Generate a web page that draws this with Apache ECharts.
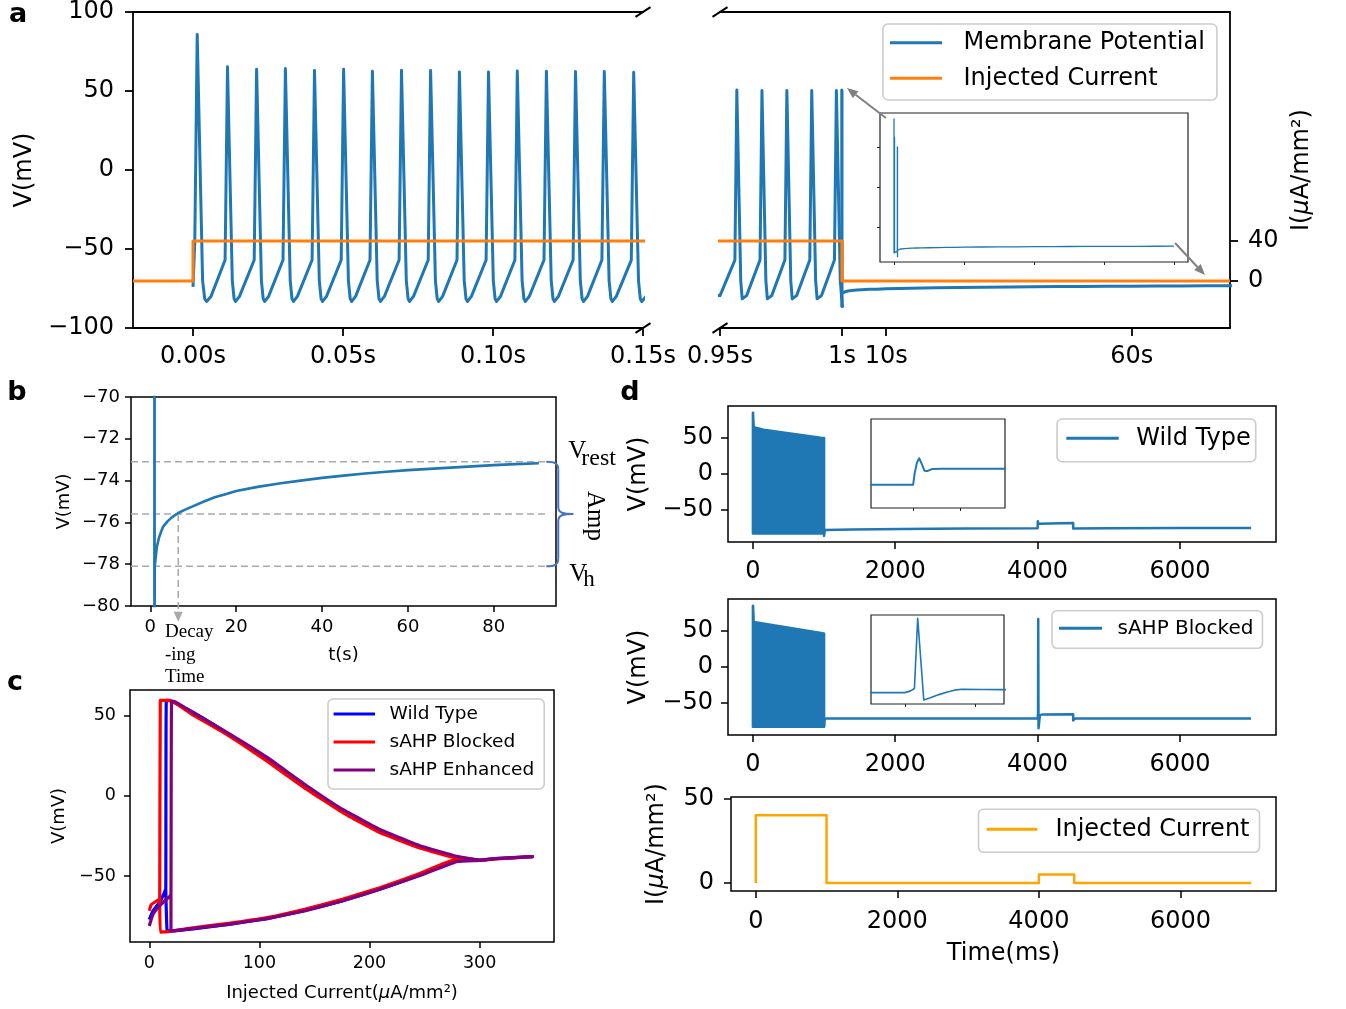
<!DOCTYPE html>
<html><head><meta charset="utf-8">
<script src="https://cdn.jsdelivr.net/npm/echarts@6/dist/echarts.min.js"></script>
<style>html,body{margin:0;padding:0;background:#fff}#c{width:1346px;height:1009px}</style>
</head><body><div id="c"></div>
<script>
// ================= DATA =================
// Panel a: membrane potential [t (s), V (mV)], 0 - 0.15 s
const vmEarly = [
 [0,-74],[0.0006,-45],[0.0014,85.7],[0.0032,-70],[0.0039,-81.5],[0.0045,-83.2],[0.006,-80],
 [0.0107,-57],[0.0115,65.3],[0.0131,-70],[0.0137,-81.5],[0.0142,-83.2],[0.0155,-80],
 [0.0204,-57],[0.0212,63.8],[0.0228,-70],[0.0234,-81.5],[0.0239,-83.2],[0.0252,-80],
 [0.0300,-57],[0.0308,64.2],[0.0324,-70],[0.0330,-81.5],[0.0335,-83.2],[0.0348,-80],
 [0.0397,-57],[0.0405,62.9],[0.0421,-70],[0.0427,-81.5],[0.0432,-83.2],[0.0445,-80],
 [0.0494,-57],[0.0502,63.8],[0.0518,-70],[0.0524,-81.5],[0.0529,-83.2],[0.0542,-80],
 [0.0590,-57],[0.0598,62.5],[0.0614,-70],[0.0620,-81.5],[0.0625,-83.2],[0.0638,-80],
 [0.0687,-57],[0.0695,63.2],[0.0711,-70],[0.0717,-81.5],[0.0722,-83.2],[0.0735,-80],
 [0.0784,-57],[0.0792,62.9],[0.0808,-70],[0.0814,-81.5],[0.0819,-83.2],[0.0832,-80],
 [0.0880,-57],[0.0888,62.1],[0.0904,-70],[0.0910,-81.5],[0.0915,-83.2],[0.0928,-80],
 [0.0977,-57],[0.0985,62.1],[0.1001,-70],[0.1007,-81.5],[0.1012,-83.2],[0.1025,-80],
 [0.1073,-57],[0.1081,62.7],[0.1097,-70],[0.1103,-81.5],[0.1108,-83.2],[0.1121,-80],
 [0.1170,-57],[0.1178,62.5],[0.1194,-70],[0.1200,-81.5],[0.1205,-83.2],[0.1218,-80],
 [0.1267,-57],[0.1275,62.3],[0.1291,-70],[0.1297,-81.5],[0.1302,-83.2],[0.1315,-80],
 [0.1363,-57],[0.1371,62.3],[0.1387,-70],[0.1393,-81.5],[0.1398,-83.2],[0.1411,-80],
 [0.1461,-57],[0.1469,61.9],[0.1485,-70],[0.1491,-81.5],[0.1496,-83.2],[0.1510,-80]
];
// 0.95 - 1.0 s
const vmLate = [
 [0.95,-79.5],[0.9561,-57],[0.9569,50.6],[0.9585,-70],[0.9591,-81.5],[0.9596,-82.5],[0.9609,-79.5],
 [0.9664,-57],[0.9672,50.3],[0.9688,-70],[0.9694,-81.5],[0.9699,-82.5],[0.9712,-79.5],
 [0.9766,-57],[0.9774,50.3],[0.9790,-70],[0.9796,-81.5],[0.9801,-82.5],[0.9814,-79.5],
 [0.9868,-57],[0.9876,50.3],[0.9892,-70],[0.9898,-81.5],[0.9903,-82.5],[0.9916,-79.5],
 [0.9969,-57],[0.9977,50.3],[0.9993,-70],[0.9999,-81.5],[1.0,-83]
];
// recovery after current off (s)
const vmRecovery = [
 [1.0,-86.3],[1.02,-78.1],[1.2,-77.8],[1.5,-77.2],[2.0,-76.75],[2.5,-76.45],[3.0,-76.2],[4.0,-75.95],
 [5.0,-75.76],[6.5,-75.55],[8.0,-75.4],[10,-75.22],[12.5,-75.0],[15,-74.8],[17.5,-74.65],[20,-74.5],
 [25,-74.3],[30,-74.14],[35,-74.0],[40,-73.87],[45,-73.76],[50,-73.66],[55,-73.58],[60,-73.5],
 [65,-73.44],[70,-73.38],[75,-73.32],[80,-73.26],[85,-73.21],[90.5,-73.17]
];
// injected current [t (s), I (uA/mm2)]
const iStepA = [[-0.02,0],[0,0],[0,40],[1.0,40],[1.0,0],[80,0]];
const aTicksLeft = [0, 0.05, 0.10, 0.15];
const aTicksR1 = [0.95];
const aTicksR2 = [1, 10, 60];
const aTicksV = [-100, -50, 0, 50, 100];
const aTicksI = [0, 40];
const aInsetTicksX = [0, 20, 40, 60, 80];
const aInsetTicksY = [-50, 0, 50];

// Panel b levels
const bVrest = -73.1, bHalf = -75.6, bVh = -78.1, bDecayT = 6.5;
const bTicksX = [0, 20, 40, 60, 80];
const bTicksY = [-80, -78, -76, -74, -72, -70];

// Panel c: V (mV) vs injected current (uA/mm2)
const cWildType = [[0,-77],[3.4,-71.6],[10.3,-65.3],[13.8,-60],[15,-58],[15.5,59.5],[20,59],[40,52],[72,38.6],[107,22.6],[141,6.2],[176,-9.5],[210,-22],[245,-31.4],[279,-38.2],[300,-40],[314,-39.1],[348,-37.8],[314,-39.1],[300,-40.1],[279,-40.3],[245,-49.4],[210,-58],[176,-65.2],[141,-71.4],[107,-76.4],[72,-80],[40,-82.8],[20,-84],[16.2,-83.8],[15,-58]];
const cBlocked = [[0,-71.5],[1.7,-67.8],[6.9,-65.3],[9.5,-64.3],[10,59.5],[19,59.5],[38,51.2],[72,37.6],[107,21.6],[141,5],[176,-10.5],[210,-23],[245,-32.3],[279,-38.8],[300,-40.2],[314,-39.3],[348,-37.8],[314,-39.3],[300,-40.1],[279,-39.4],[245,-48.5],[210,-57],[176,-64.3],[141,-70.6],[107,-75.8],[72,-79.4],[38,-82.3],[17,-84.5],[10,-84.8],[9.5,-64.3]];
const cEnhanced = [[0,-81],[3.4,-73.7],[10.3,-67.8],[19,-62.2],[19.7,-61.5],[20.2,59],[22.4,59],[38,52.6],[72,39],[107,24],[141,7.3],[176,-8.6],[210,-21.1],[245,-30.9],[279,-37.6],[300,-39.9],[314,-39],[348,-37.8],[314,-39],[300,-40.2],[279,-40.9],[245,-49.7],[210,-58],[176,-65.3],[141,-71.6],[107,-76.4],[72,-80],[38,-82.7],[22.4,-84.1],[19.7,-84.1],[19.7,-61.5]];
const cTicksX = [0, 100, 200, 300];
const cTicksY = [-50, 0, 50];

// Panel d: [t (ms), V (mV)]
const dWTBand = [[0,-83.2],[0,85.7],[2,85.7],[11,65.3],[150,62],[950,50.5],[1000,50.3],[1000,-83.2]];
const dWTTrace = [[1000,-83.2],[1000,-86.5],[1010,-78.2],[1400,-77.5],[2100,-76.7],[3000,-76.2],[4000,-75.85],[4001.5,-71],[4004,-66],[4006.5,-64.1],[4009,-66.5],[4012,-69.6],[4015,-69.8],[4020,-68.9],[4030,-68.8],[4500,-68.6],[4500,-76],[4520,-75.9],[5000,-75.8],[6000,-75.6],[7000,-75.5]];
const dSBBand = [[0,-83.5],[0,85.5],[2,85.5],[11,63],[1000,46.8],[1000,-83.5]];
const dSBTrace = [[1000,-83.5],[1000,-85],[1008,-71.8],[4000,-71.8],[4004,-68.5],[4006.7,-64],[4009,67],[4013.3,-85.6],[4018,-81.5],[4024,-75.5],[4030,-70.5],[4035,-67.2],[4040,-65.6],[4055,-65.9],[4070,-66.2],[4500,-66],[4500,-74.7],[4510,-73],[4530,-71.8],[7000,-71.8]];
const dCurrent = [[0,0],[0,40],[1000,40],[1000,0],[4000,0],[4000,5],[4500,5],[4500,0],[7000,0]];
const dTicksX = [0, 2000, 4000, 6000];
const dTicksY = [-50, 0, 50];
const dTicksI = [0, 50];
const dInsetTicksX = [4000, 4050];

// ================= CHART =================
const FONT = 'DejaVu Sans';
const SERIF = 'Liberation Serif';
const BLUE = '#1f77b4', ORANGE = '#ff7f0e';
const minus = v => String(v).replace('-', '\u2212');
const vmFull = vmEarly.concat(vmLate, vmRecovery);
const vmInset = vmFull.filter(p => p[0] <= 80);
const vmPanelB = vmLate.concat(vmRecovery);

const G = [
  {left:133, top:12, width:510, height:316},
  {left:720, top:12, width:122, height:316},
  {left:842, top:12, width:388, height:316},
  {left:880, top:113, width:308, height:149, show:true, borderColor:'#222', borderWidth:1.2, backgroundColor:'#fff'},
  {left:131, top:397, width:425, height:209, show:true, borderColor:'#000', borderWidth:1.5},
  {left:130, top:690, width:424, height:252, show:true, borderColor:'#000', borderWidth:1.5},
  {left:728, top:406, width:548, height:136, show:true, borderColor:'#000', borderWidth:1.5},
  {left:871, top:419, width:134, height:89, show:true, borderColor:'#222', borderWidth:1.2, backgroundColor:'#fff'},
  {left:728, top:599, width:548, height:136, show:true, borderColor:'#000', borderWidth:1.5},
  {left:871, top:615, width:133, height:89, show:true, borderColor:'#222', borderWidth:1.2, backgroundColor:'#fff'},
  {left:731, top:797, width:545, height:94, show:true, borderColor:'#000', borderWidth:1.5}
].map(g => Object.assign({outerBoundsMode:'none', containLabel:false, show:false}, g));

function ax(o) {
  const a = {
    type:'value', gridIndex:o.g, min:o.min, max:o.max, show:o.show !== false,
    axisLine:{show:!!o.line, onZero:false, lineStyle:{color:'#000', width:o.lw || 1.5}},
    axisTick:{show:!!o.ticks, length:o.tl || 6, inside:false, lineStyle:{color:o.tc || '#000', width:o.lw || 1.5}},
    axisLabel:{show:!!o.labels, margin:o.margin || 8, fontFamily:FONT, fontSize:o.fs || 18, color:'#000',
      formatter:o.fmt || (v => minus(v)), showMinLabel:true, showMaxLabel:true, hideOverlap:false},
    splitLine:{show:false}, splitArea:{show:false}
  };
  if (o.pos) a.position = o.pos;
  if (o.ticks) a.axisTick.customValues = o.ticks;
  if (o.ticks && o.labels) a.axisLabel.customValues = o.ticks;
  if (o.name) {
    a.name = o.name; a.nameLocation = 'middle'; a.nameGap = o.gap;
    if (o.nameRotate !== undefined) a.nameRotate = o.nameRotate;
    a.nameTextStyle = {fontFamily:FONT, fontSize:o.nfs || 18, color:'#000',
      rich:{it:{fontFamily:FONT, fontStyle:'italic', fontSize:o.nfs || 18, color:'#000'}}};
  }
  return a;
}
const xAxes = [
  ax({g:0, min:-0.02, max:0.15, line:true, lw:1.8, ticks:aTicksLeft, labels:true, tl:8, fs:24, margin:17, fmt:v => v.toFixed(2) + 's'}),
  ax({g:0, min:-0.02, max:0.15, line:true, lw:1.8, pos:'top'}),
  ax({g:1, min:0.95, max:1.0, line:true, lw:1.8, ticks:aTicksR1, labels:true, tl:8, fs:24, margin:17, fmt:v => v.toFixed(2) + 's'}),
  ax({g:1, min:0.95, max:1.0, line:true, lw:1.8, pos:'top'}),
  ax({g:2, min:1, max:80, line:true, lw:1.8, ticks:aTicksR2, labels:true, tl:8, fs:24, margin:17, fmt:v => v + 's'}),
  ax({g:2, min:1, max:80, line:true, lw:1.8, pos:'top'}),
  ax({g:3, min:-4, max:84, ticks:aInsetTicksX, tl:3, lw:1, tc:'#222'}),
  ax({g:4, min:-4.5, max:94.5, ticks:bTicksX, labels:true, tl:6, fs:18, margin:12, name:'t(s)', gap:40, nfs:18}),
  ax({g:5, min:-17.5, max:367.5, ticks:cTicksX, labels:true, tl:6, fs:17.5, margin:12, name:'Injected Current({it|μ}A/mm²)', gap:42, nfs:18}),
  ax({g:6, min:-350, max:7350, ticks:dTicksX, labels:true, tl:7, fs:24, margin:18}),
  ax({g:7, min:3955, max:4098, ticks:dInsetTicksX, tl:3, lw:1, tc:'#222'}),
  ax({g:8, min:-350, max:7350, ticks:dTicksX, labels:true, tl:7, fs:24, margin:18}),
  ax({g:9, min:3976, max:4070, ticks:dInsetTicksX, tl:3, lw:1, tc:'#222'}),
  ax({g:10, min:-350, max:7350, ticks:dTicksX, labels:true, tl:7, fs:24, margin:19, name:'Time(ms)', gap:51, nfs:24})
];
const yAxes = [
  ax({g:0, min:-100, max:100, line:true, lw:1.8, ticks:aTicksV, labels:true, tl:8, fs:24, margin:19, name:'V(mV)', gap:96, nfs:24}),
  ax({g:0, min:-47, max:269, show:false}),
  ax({g:1, min:-100, max:100, show:false}),
  ax({g:1, min:-47, max:269, show:false}),
  ax({g:2, min:-100, max:100, show:false}),
  ax({g:2, min:-47, max:269, pos:'right', line:true, lw:1.8, ticks:aTicksI, labels:true, tl:8, fs:24, margin:18, name:'I({it|μ}A/mm²)', gap:60, nfs:24, nameRotate:90}),
  ax({g:3, min:-93, max:93, ticks:aInsetTicksY, tl:3, lw:1, tc:'#222'}),
  ax({g:4, min:-80, max:-70, ticks:bTicksY, labels:true, tl:6, fs:18, margin:11, name:'V(mV)', gap:58, nfs:18}),
  ax({g:5, min:-91, max:66, ticks:cTicksY, labels:true, tl:6, fs:17.5, margin:14, name:'V(mV)', gap:62, nfs:18}),
  ax({g:6, min:-95, max:95, ticks:dTicksY, labels:true, tl:7, fs:24, margin:15, name:'V(mV)', gap:77, nfs:24}),
  ax({g:7, min:-86.3, max:-46.5}),
  ax({g:8, min:-95, max:95, ticks:dTicksY, labels:true, tl:7, fs:24, margin:15, name:'V(mV)', gap:77, nfs:24}),
  ax({g:9, min:-93, max:73}),
  ax({g:10, min:-4.8, max:50.8, ticks:dTicksI, labels:true, tl:7, fs:24, margin:17, name:'I({it|μ}A/mm²)', gap:62, nfs:24})
];

function line(name, xi, yi, data, color, w, extra) {
  return Object.assign({type:'line', name, xAxisIndex:xi, yAxisIndex:yi, data, symbol:'none', showSymbol:false,
    animation:false, silent:true, lineStyle:{color, width:w, join:'round', cap:'butt'}, itemStyle:{color}}, extra || {});
}
function band(name, xi, yi, pts, color) {
  return {type:'custom', name, coordinateSystem:'cartesian2d', xAxisIndex:xi, yAxisIndex:yi,
    data:[[pts[0][0], pts[0][1]]], silent:true, animation:false, itemStyle:{color},
    renderItem:(params, api) => ({type:'polygon', shape:{points:pts.map(p => api.coord(p))},
      style:{fill:color, stroke:color, lineWidth:2.5, lineJoin:'round'}})};
}
const dash = (name, pts) => line(name, 7, 7, pts, '#a9a9a9', 1.5, {lineStyle:{color:'#a9a9a9', width:1.5, type:[7, 4]}, clip:false, z:1});

const series = [
  line('Membrane Potential', 0, 0, vmFull, BLUE, 3),
  line('Injected Current', 0, 1, iStepA, ORANGE, 3),
  line('Membrane Potential', 2, 2, vmFull, BLUE, 3),
  line('Injected Current', 2, 3, iStepA, ORANGE, 3),
  line('Membrane Potential', 4, 4, vmFull, BLUE, 3),
  line('Injected Current', 4, 5, iStepA, ORANGE, 3),
  line('inset a', 6, 6, vmInset, BLUE, 1.3),
  dash('V_rest', [[-4.5, bVrest], [92, bVrest]]),
  dash('Half', [[-4.5, bHalf], [92, bHalf]]),
  dash('V_h', [[-4.5, bVh], [92, bVh]]),
  dash('Decay', [[bDecayT, bHalf], [bDecayT, -80.2]]),
  line('b trace', 7, 7, vmPanelB, BLUE, 2.6, {z:3}),
  line('Wild Type', 8, 8, cWildType, '#0000ff', 3.2, {smooth:0.1}),
  line('sAHP Blocked', 8, 8, cBlocked, '#ff0000', 3.2, {smooth:0.1}),
  line('sAHP Enhanced', 8, 8, cEnhanced, '#800080', 3.2, {smooth:0.1}),
  band('Wild Type', 9, 9, dWTBand, BLUE),
  line('Wild Type', 9, 9, dWTTrace, BLUE, 2.5),
  line('inset WT', 10, 10, dWTTrace, BLUE, 2),
  band('sAHP Blocked', 11, 11, dSBBand, BLUE),
  line('sAHP Blocked', 11, 11, dSBTrace, BLUE, 2.5),
  line('inset SB', 12, 12, dSBTrace, BLUE, 1.6),
  line('Injected Current', 13, 13, dCurrent, '#ffa500', 2.5)
];

function legend(left, top, items, fs, lh, gap, pad, iconW, textPad) {
  return {show:true, orient:'vertical', left, top, itemWidth:iconW, itemHeight:3, itemGap:gap, icon:'rect',
    padding:pad, backgroundColor:'rgba(255,255,255,0.85)', borderColor:'#cccccc', borderWidth:1.6, borderRadius:5,
    selectedMode:false, inactiveColor:'#000',
    textStyle:{fontFamily:FONT, fontSize:fs, lineHeight:lh, color:'#000', padding:[0, 0, 0, textPad]},
    data:items.map(it => ({name:it[0], icon:'rect', itemStyle:{color:it[1]}}))};
}
const legends = [
  legend(883, 24, [['Membrane Potential', BLUE], ['Injected Current', ORANGE]], 24, 28, 7.6, [4.7, 12, 7.7, 7], 52, 16.5),
  legend(328, 699, [['Wild Type', '#0000ff'], ['sAHP Blocked', '#ff0000'], ['sAHP Enhanced', '#800080']], 18.5, 22, 6, [4, 10, 8, 5.6], 41.4, 9.5),
  legend(1057, 419, [['Wild Type', BLUE]], 24, 28, 0, [5.3, 5, 9.4, 9.3], 52.4, 12.5),
  legend(1052, 610.7, [['sAHP Blocked', BLUE]], 20, 24, 0, [5.6, 9, 8, 7], 43, 10.5),
  legend(978.5, 809.3, [['Injected Current', '#ffa500']], 24, 28, 0, [6, 10, 9, 8.2], 50.7, 13)
];

const chart = echarts.init(document.getElementById('c'), null, {renderer:'canvas', width:1346, height:1009});
chart.setOption({animation:false, backgroundColor:'#fff', grid:G, xAxis:xAxes, yAxis:yAxes, series, legend:legends});

// ================= ANNOTATIONS =================
const gfx = [];
const px = (xi, yi, p) => chart.convertToPixel({xAxisIndex:xi, yAxisIndex:yi}, p);
function txt(x, y, text, o) {
  gfx.push({type:'text', x, y, rotation:o.rot || 0, silent:true, z:100,
    style:{text, fill:'#000', fontFamily:o.ff || FONT, fontSize:o.fs, fontWeight:o.fw || 'normal',
      align:o.al || 'center', verticalAlign:o.va || 'middle'}});
}
function seg(a, b, color, w) {
  gfx.push({type:'line', silent:true, z:100, shape:{x1:a[0], y1:a[1], x2:b[0], y2:b[1]}, style:{stroke:color, lineWidth:w}});
}
function bez(a, c1, c2, b, color, w) {
  gfx.push({type:'bezierCurve', silent:true, z:100, shape:{x1:a[0], y1:a[1], cpx1:c1[0], cpy1:c1[1], cpx2:c2[0], cpy2:c2[1], x2:b[0], y2:b[1]},
    style:{stroke:color, lineWidth:w, fill:null}});
}
function arrow(tail, head, color, w, hl, hw) {
  const dx = head[0] - tail[0], dy = head[1] - tail[1], L = Math.hypot(dx, dy);
  const ux = dx / L, uy = dy / L;
  const base = [head[0] - ux * hl, head[1] - uy * hl];
  seg(tail, base, color, w);
  gfx.push({type:'polygon', silent:true, z:100, shape:{points:[head, [base[0] - uy * hw / 2, base[1] + ux * hw / 2], [base[0] + uy * hw / 2, base[1] - ux * hw / 2]]}, style:{fill:color}});
}
// panel letters
txt(18, 15, 'a', {fs:27, fw:'bold'});
txt(17, 393, 'b', {fs:27, fw:'bold'});
txt(15, 683, 'c', {fs:27, fw:'bold'});
txt(630, 393, 'd', {fs:27, fw:'bold'});
// axis break marks (panel a)
[[0, 0, 0.15, 100], [0, 0, 0.15, -100], [2, 2, 0.95, 100], [2, 2, 0.95, -100]].forEach(b => {
  const p = px(b[0], b[1], [b[2], b[3]]);
  seg([p[0] - 7.5, p[1] + 4.8], [p[0] + 7.5, p[1] - 4.8], '#000', 2);
});
// zoom arrows (panel a)
arrow(px(6, 6, [-2.3, 86.8]), px(4, 4, [2.0, 51.9]), '#808080', 2, 11, 9);
arrow(px(6, 6, [80.3, -69.3]), px(4, 4, [74.9, -66.5]), '#808080', 2, 11, 9);
// panel b annotations
const pT = px(7, 7, [92, bVrest]), pM = px(7, 7, [92, bHalf]), pB = px(7, 7, [92, bVh]);
const xs = pT[0] + 1, xv = pT[0] + 13, xc = pT[0] + 28, BR = '#4472c4';
bez([xs, pT[1]], [xs + 8, pT[1]], [xv, pT[1] + 1], [xv, pT[1] + 8], BR, 2);
seg([xv, pT[1] + 8], [xv, pM[1] - 7], BR, 2);
bez([xv, pM[1] - 7], [xv, pM[1] - 1], [xv + 5, pM[1]], [xc, pM[1]], BR, 2);
bez([xc, pM[1]], [xv + 5, pM[1]], [xv, pM[1] + 1], [xv, pM[1] + 7], BR, 2);
seg([xv, pM[1] + 7], [xv, pB[1] - 8], BR, 2);
bez([xv, pB[1] - 8], [xv, pB[1] - 1], [xv - 4, pB[1]], [xs, pB[1]], BR, 2);
txt(xv + 10, pT[1] - 10, 'V', {ff:SERIF, fs:25, al:'left'});
txt(xv + 23, pT[1] - 3, 'rest', {ff:SERIF, fs:24, al:'left'});
txt(xv + 11, pB[1] + 8, 'V', {ff:SERIF, fs:25, al:'left'});
txt(xv + 25, pB[1] + 14, 'h', {ff:SERIF, fs:23, al:'left'});
txt(xc + 21, pM[1] + 2, 'Amp', {ff:SERIF, fs:25, rot:-Math.PI / 2});
const pa = px(7, 7, [bDecayT, -80.75]);
gfx.push({type:'polygon', silent:true, z:100, shape:{points:[[pa[0], pa[1]], [pa[0] - 4.5, pa[1] - 10], [pa[0] + 4.5, pa[1] - 10]]}, style:{fill:'#a9a9a9'}});
txt(165, 632.5, 'Decay', {ff:SERIF, fs:19, al:'left'});
txt(165, 655.5, '-ing', {ff:SERIF, fs:19, al:'left'});
txt(165, 677.5, 'Time', {ff:SERIF, fs:19, al:'left'});
chart.setOption({graphic:{elements:gfx}});
</script></body></html>
